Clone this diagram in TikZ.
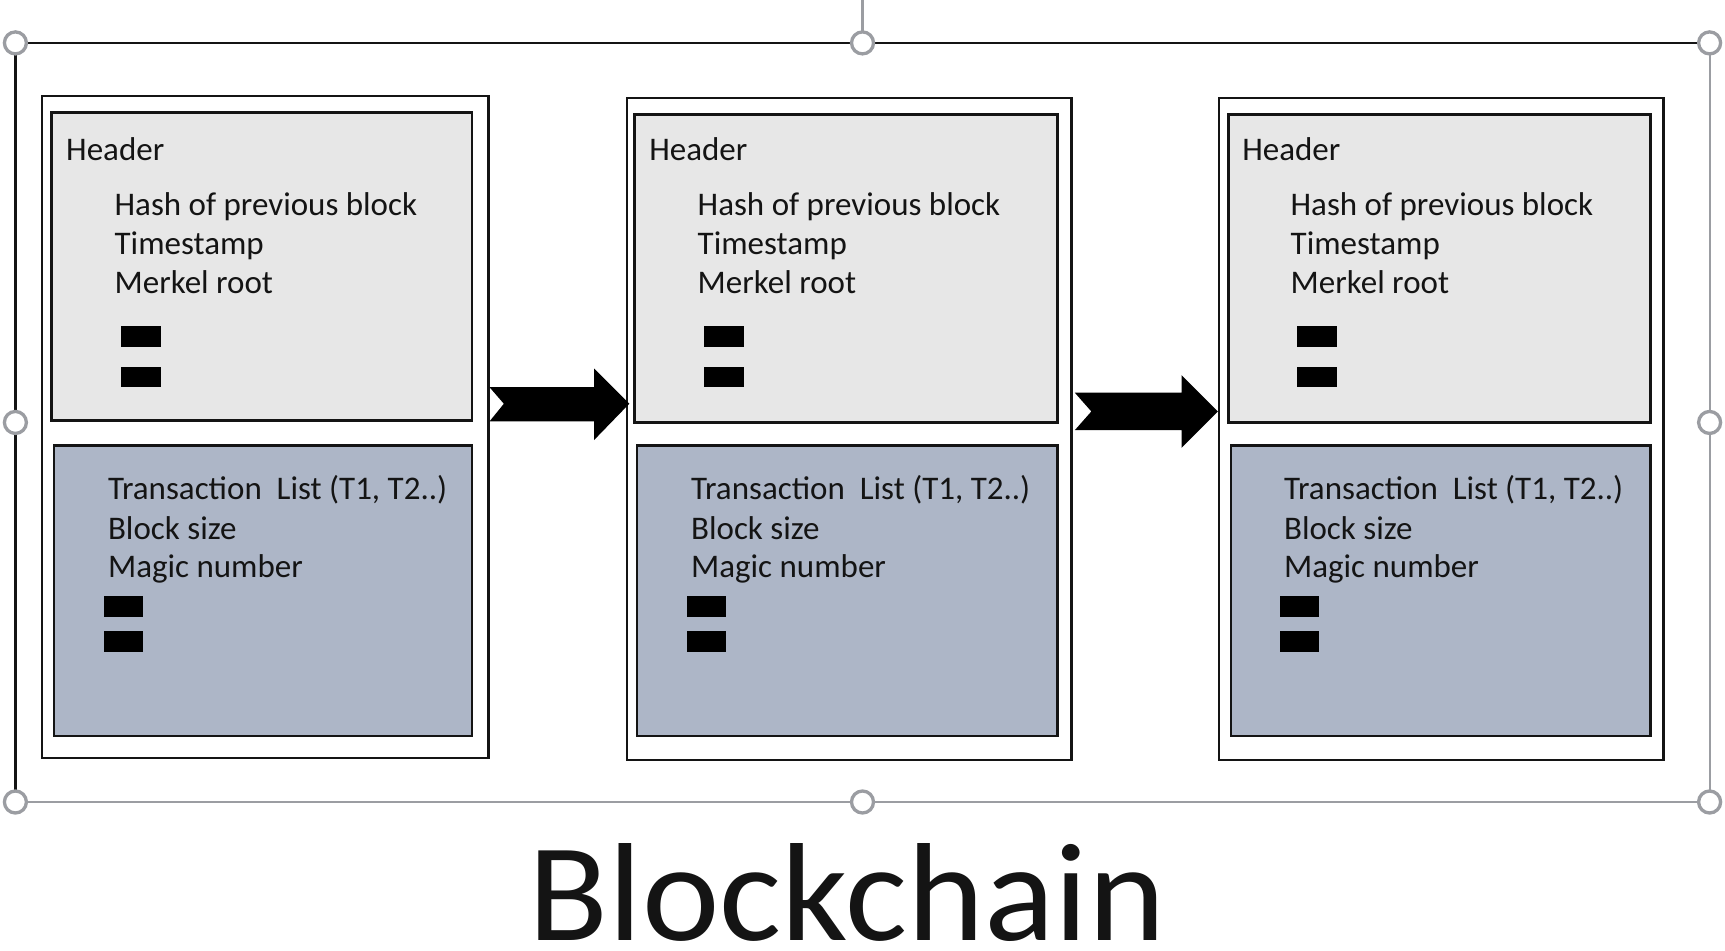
\documentclass[tikz,border=0pt]{standalone}
\usepackage{fontspec}
\setmainfont{Carlito}
\usetikzlibrary{fit}
\definecolor{hdrfill}{RGB}{231,231,231}
\definecolor{bodyfill}{RGB}{173,182,199}
\definecolor{handlegray}{RGB}{155,157,162}
\definecolor{inkc}{RGB}{20,20,20}
\tikzset{
  outerbox/.style={draw=inkc, line width=2pt, fill=white, inner sep=0pt},
  hdrbox/.style={draw=inkc, line width=2.5pt, fill=hdrfill, inner sep=0pt},
  bodybox/.style={draw=inkc, line width=2.5pt, fill=bodyfill, inner sep=0pt},
  txt/.style={anchor=base west, inner sep=0pt, text=inkc, font=\fontsize{30}{36}\selectfont},
  dotbar/.style={fill=black, draw=none, inner sep=0pt, anchor=north west, minimum width=36pt, minimum height=19pt},
  handle/.style={circle, draw=handlegray, line width=3pt, fill=white, minimum size=20pt, inner sep=0pt},
  blockarrow/.style={fill=black, draw=none},
}
\begin{document}
\begin{tikzpicture}[x=1pt,y=-1pt]
\useasboundingbox (0,0) rectangle (1568,864);
% selection frame
\draw[handlegray, line width=2pt] (784,0) -- (784,39);
\draw[handlegray, line width=2pt] (1554,39) -- (1554,729) -- (14,729);
\draw[inkc, line width=2.5pt] (14,729) -- (14,39) -- (1554,39);
% blocks
\node[outerbox, fit={(38,87)(444,689)}] (o1) {};
\node[hdrbox, fit={(47,102)(429,382)}] (h1) {};
\node[bodybox, fit={(49,405)(429,669)}] (b1) {};
\node[outerbox, fit={(570,89)(974,691)}] (o2) {};
\node[hdrbox, fit={(577,104)(961,384)}] (h2) {};
\node[bodybox, fit={(579,405)(961,669)}] (b2) {};
\node[outerbox, fit={(1108,89)(1512,691)}] (o3) {};
\node[hdrbox, fit={(1117,104)(1500,384)}] (h3) {};
\node[bodybox, fit={(1119,405)(1500,669)}] (b3) {};
% texts
\foreach \i/\dx in {1/0,2/530,3/1069}{
  \node[txt] (hd\i) at (60+\dx,146) {Header};
  \node[txt] (hp\i) at (104+\dx,196) {Hash of previous block};
  \node[txt] (ts\i) at (104+\dx,231) {Timestamp};
  \node[txt] (mr\i) at (104+\dx,267) {Merkel root};
  \node[dotbar] (hx\i) at (110+\dx,296) {};
  \node[dotbar] (hy\i) at (110+\dx,333) {};
  \node[txt] (tl\i) at (98+\dx,454) {Transaction\ \ List (T1, T2..)};
  \node[txt] (bs\i) at (98+\dx,490) {Block size};
  \node[txt] (mn\i) at (98+\dx,525) {Magic number};
  \node[dotbar] (bx\i) at (94+\dx,542) {};
  \node[dotbar] (by\i) at (94+\dx,573) {};
}
% block arrows
\fill[blockarrow] (o1.east |- 0,352) -- (540,352) -- (540,335) -- (572,367) -- (540,400) -- (540,383) -- (o1.east |- 0,383) -- (458,367) -- cycle;
\fill[blockarrow] (977,357) -- (1074,357) -- (1074,341) -- (o3.west |- 0,374) -- (1074,407) -- (1074,391) -- (977,391) -- (992,374) -- cycle;
% handles
\foreach \n/\p in {a/{14,39},b/{784,39},c/{1554,39},d/{14,384},e/{1554,384},f/{14,729},g/{784,729},h/{1554,729}}{
  \node[handle] (hnd\n) at (\p) {};
}
% title
\node[anchor=base, inner sep=0pt, text=inkc, font=\fontsize{127}{140}\selectfont, xscale=1.05] (title) at (770,855) {Blockchain};
\end{tikzpicture}
\end{document}
